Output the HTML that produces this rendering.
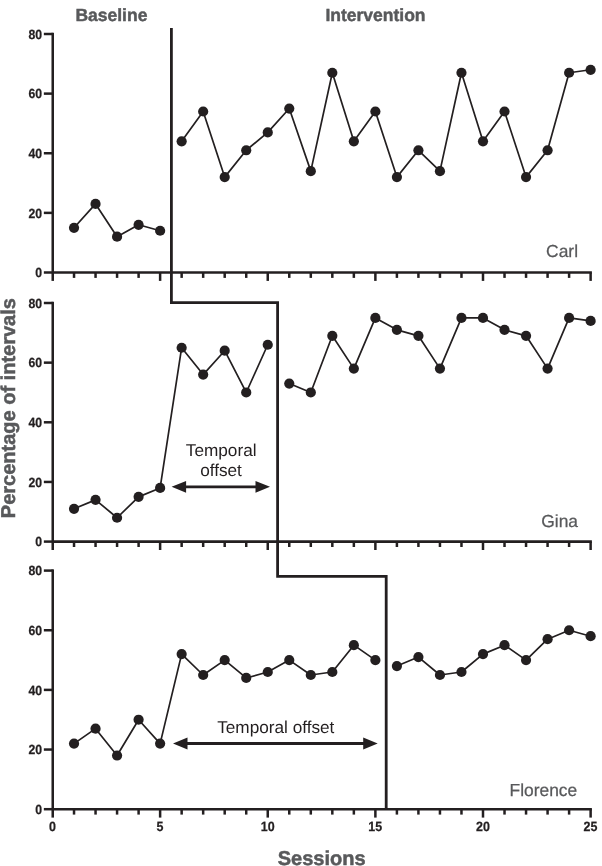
<!DOCTYPE html>
<html><head><meta charset="utf-8"><title>Multiple baseline</title>
<style>
html,body{margin:0;padding:0;background:#fff;}
body{width:602px;height:866px;overflow:hidden;}
svg{display:block;will-change:transform;text-rendering:geometricPrecision;font-family:"Liberation Sans",sans-serif;}
</style></head><body>
<svg width="602" height="866" viewBox="0 0 602 866">
<rect width="602" height="866" fill="#fff"/>
<text x="75.4" y="20.9" font-size="17.5" font-weight="bold" fill="#58595b" stroke="#58595b" stroke-width="0.45">Baseline</text>
<text x="325.4" y="20.9" font-size="17.5" font-weight="bold" fill="#58595b" stroke="#58595b" stroke-width="0.45">Intervention</text>
<text transform="translate(15.1,518.2) rotate(-90)" font-size="20" font-weight="bold" fill="#58595b" stroke="#58595b" stroke-width="0.5">Percentage of intervals</text>
<text x="321.7" y="865" text-anchor="middle" font-size="20" font-weight="bold" fill="#58595b" stroke="#58595b" stroke-width="0.5">Sessions</text>
<g stroke="#231f20" stroke-width="2.55" fill="none">
<path d="M52.75 32.75V280.90"/>
<path d="M52.75 272.50H591.88"/>
</g>
<g stroke="#231f20" stroke-width="2.5" fill="none">
<path d="M43.85 272.50H52.75"/>
<path d="M43.85 212.88H52.75"/>
<path d="M43.85 153.25H52.75"/>
<path d="M43.85 93.62H52.75"/>
<path d="M43.85 34.00H52.75"/>
<path d="M74.03 272.50V277.90"/>
<path d="M95.55 272.50V277.90"/>
<path d="M117.07 272.50V277.90"/>
<path d="M138.60 272.50V277.90"/>
<path d="M160.12 272.50V280.90"/>
<path d="M181.65 272.50V277.90"/>
<path d="M203.17 272.50V277.90"/>
<path d="M224.70 272.50V277.90"/>
<path d="M246.22 272.50V277.90"/>
<path d="M267.75 272.50V280.90"/>
<path d="M289.27 272.50V277.90"/>
<path d="M310.80 272.50V277.90"/>
<path d="M332.32 272.50V277.90"/>
<path d="M353.85 272.50V277.90"/>
<path d="M375.38 272.50V280.90"/>
<path d="M396.90 272.50V277.90"/>
<path d="M418.42 272.50V277.90"/>
<path d="M439.95 272.50V277.90"/>
<path d="M461.47 272.50V277.90"/>
<path d="M483.00 272.50V280.90"/>
<path d="M504.52 272.50V277.90"/>
<path d="M526.05 272.50V277.90"/>
<path d="M547.58 272.50V277.90"/>
<path d="M569.10 272.50V277.90"/>
<path d="M590.62 272.50V280.90"/>
</g>
<g font-size="13.3" font-weight="bold" fill="#231f20" stroke="#231f20" stroke-width="0.25" text-anchor="end">
<text transform="translate(42.0,277.15) scale(0.92,1)">0</text>
<text transform="translate(42.0,217.53) scale(0.92,1)">20</text>
<text transform="translate(42.0,157.90) scale(0.92,1)">40</text>
<text transform="translate(42.0,98.28) scale(0.92,1)">60</text>
<text transform="translate(42.0,38.65) scale(0.92,1)">80</text>
</g>
<polyline points="74.03,227.78 95.55,203.93 117.07,236.72 138.60,224.80 160.12,230.76" fill="none" stroke="#231f20" stroke-width="1.7" stroke-linejoin="round"/>
<polyline points="181.65,141.32 203.17,111.51 224.70,177.10 246.22,150.27 267.75,132.38 289.27,108.53 310.80,171.14 332.32,72.76 353.85,141.32 375.38,111.51 396.90,177.10 418.42,150.27 439.95,171.14 461.47,72.76 483.00,141.32 504.52,111.51 526.05,177.10 547.58,150.27 569.10,72.76 590.62,69.78" fill="none" stroke="#231f20" stroke-width="1.7" stroke-linejoin="round"/>
<g fill="#231f20">
<circle cx="74.03" cy="227.78" r="5.1"/>
<circle cx="95.55" cy="203.93" r="5.1"/>
<circle cx="117.07" cy="236.72" r="5.1"/>
<circle cx="138.60" cy="224.80" r="5.1"/>
<circle cx="160.12" cy="230.76" r="5.1"/>
<circle cx="181.65" cy="141.32" r="5.1"/>
<circle cx="203.17" cy="111.51" r="5.1"/>
<circle cx="224.70" cy="177.10" r="5.1"/>
<circle cx="246.22" cy="150.27" r="5.1"/>
<circle cx="267.75" cy="132.38" r="5.1"/>
<circle cx="289.27" cy="108.53" r="5.1"/>
<circle cx="310.80" cy="171.14" r="5.1"/>
<circle cx="332.32" cy="72.76" r="5.1"/>
<circle cx="353.85" cy="141.32" r="5.1"/>
<circle cx="375.38" cy="111.51" r="5.1"/>
<circle cx="396.90" cy="177.10" r="5.1"/>
<circle cx="418.42" cy="150.27" r="5.1"/>
<circle cx="439.95" cy="171.14" r="5.1"/>
<circle cx="461.47" cy="72.76" r="5.1"/>
<circle cx="483.00" cy="141.32" r="5.1"/>
<circle cx="504.52" cy="111.51" r="5.1"/>
<circle cx="526.05" cy="177.10" r="5.1"/>
<circle cx="547.58" cy="150.27" r="5.1"/>
<circle cx="569.10" cy="72.76" r="5.1"/>
<circle cx="590.62" cy="69.78" r="5.1"/>
</g>
<text x="578.0" y="257.4" text-anchor="end" font-size="17.4" fill="#58595b" stroke="#58595b" stroke-width="0.25">Carl</text>
<g stroke="#231f20" stroke-width="2.55" fill="none">
<path d="M52.75 301.75V550.00"/>
<path d="M52.75 541.60H591.88"/>
</g>
<g stroke="#231f20" stroke-width="2.5" fill="none">
<path d="M43.85 541.60H52.75"/>
<path d="M43.85 481.95H52.75"/>
<path d="M43.85 422.30H52.75"/>
<path d="M43.85 362.65H52.75"/>
<path d="M43.85 303.00H52.75"/>
<path d="M74.03 541.60V547.00"/>
<path d="M95.55 541.60V547.00"/>
<path d="M117.07 541.60V547.00"/>
<path d="M138.60 541.60V547.00"/>
<path d="M160.12 541.60V550.00"/>
<path d="M181.65 541.60V547.00"/>
<path d="M203.17 541.60V547.00"/>
<path d="M224.70 541.60V547.00"/>
<path d="M246.22 541.60V547.00"/>
<path d="M267.75 541.60V550.00"/>
<path d="M289.27 541.60V547.00"/>
<path d="M310.80 541.60V547.00"/>
<path d="M332.32 541.60V547.00"/>
<path d="M353.85 541.60V547.00"/>
<path d="M375.38 541.60V550.00"/>
<path d="M396.90 541.60V547.00"/>
<path d="M418.42 541.60V547.00"/>
<path d="M439.95 541.60V547.00"/>
<path d="M461.47 541.60V547.00"/>
<path d="M483.00 541.60V550.00"/>
<path d="M504.52 541.60V547.00"/>
<path d="M526.05 541.60V547.00"/>
<path d="M547.58 541.60V547.00"/>
<path d="M569.10 541.60V547.00"/>
<path d="M590.62 541.60V550.00"/>
</g>
<g font-size="13.3" font-weight="bold" fill="#231f20" stroke="#231f20" stroke-width="0.25" text-anchor="end">
<text transform="translate(42.0,546.25) scale(0.92,1)">0</text>
<text transform="translate(42.0,486.60) scale(0.92,1)">20</text>
<text transform="translate(42.0,426.95) scale(0.92,1)">40</text>
<text transform="translate(42.0,367.30) scale(0.92,1)">60</text>
<text transform="translate(42.0,307.65) scale(0.92,1)">80</text>
</g>
<polyline points="74.03,508.79 95.55,499.85 117.07,517.74 138.60,496.86 160.12,487.92 181.65,347.74 203.17,374.58 224.70,350.72 246.22,392.48 267.75,344.75" fill="none" stroke="#231f20" stroke-width="1.7" stroke-linejoin="round"/>
<polyline points="289.27,383.53 310.80,392.48 332.32,335.81 353.85,368.62 375.38,317.91 396.90,329.84 418.42,335.81 439.95,368.62 461.47,317.91 483.00,317.91 504.52,329.84 526.05,335.81 547.58,368.62 569.10,317.91 590.62,320.89" fill="none" stroke="#231f20" stroke-width="1.7" stroke-linejoin="round"/>
<g fill="#231f20">
<circle cx="74.03" cy="508.79" r="5.1"/>
<circle cx="95.55" cy="499.85" r="5.1"/>
<circle cx="117.07" cy="517.74" r="5.1"/>
<circle cx="138.60" cy="496.86" r="5.1"/>
<circle cx="160.12" cy="487.92" r="5.1"/>
<circle cx="181.65" cy="347.74" r="5.1"/>
<circle cx="203.17" cy="374.58" r="5.1"/>
<circle cx="224.70" cy="350.72" r="5.1"/>
<circle cx="246.22" cy="392.48" r="5.1"/>
<circle cx="267.75" cy="344.75" r="5.1"/>
<circle cx="289.27" cy="383.53" r="5.1"/>
<circle cx="310.80" cy="392.48" r="5.1"/>
<circle cx="332.32" cy="335.81" r="5.1"/>
<circle cx="353.85" cy="368.62" r="5.1"/>
<circle cx="375.38" cy="317.91" r="5.1"/>
<circle cx="396.90" cy="329.84" r="5.1"/>
<circle cx="418.42" cy="335.81" r="5.1"/>
<circle cx="439.95" cy="368.62" r="5.1"/>
<circle cx="461.47" cy="317.91" r="5.1"/>
<circle cx="483.00" cy="317.91" r="5.1"/>
<circle cx="504.52" cy="329.84" r="5.1"/>
<circle cx="526.05" cy="335.81" r="5.1"/>
<circle cx="547.58" cy="368.62" r="5.1"/>
<circle cx="569.10" cy="317.91" r="5.1"/>
<circle cx="590.62" cy="320.89" r="5.1"/>
</g>
<text x="578.0" y="526.9" text-anchor="end" font-size="17.4" fill="#58595b" stroke="#58595b" stroke-width="0.25">Gina</text>
<g stroke="#231f20" stroke-width="2.55" fill="none">
<path d="M52.75 569.35V817.60"/>
<path d="M52.75 809.20H591.88"/>
</g>
<g stroke="#231f20" stroke-width="2.5" fill="none">
<path d="M43.85 809.20H52.75"/>
<path d="M43.85 749.55H52.75"/>
<path d="M43.85 689.90H52.75"/>
<path d="M43.85 630.25H52.75"/>
<path d="M43.85 570.60H52.75"/>
<path d="M74.03 809.20V814.60"/>
<path d="M95.55 809.20V814.60"/>
<path d="M117.07 809.20V814.60"/>
<path d="M138.60 809.20V814.60"/>
<path d="M160.12 809.20V817.60"/>
<path d="M181.65 809.20V814.60"/>
<path d="M203.17 809.20V814.60"/>
<path d="M224.70 809.20V814.60"/>
<path d="M246.22 809.20V814.60"/>
<path d="M267.75 809.20V817.60"/>
<path d="M289.27 809.20V814.60"/>
<path d="M310.80 809.20V814.60"/>
<path d="M332.32 809.20V814.60"/>
<path d="M353.85 809.20V814.60"/>
<path d="M375.38 809.20V817.60"/>
<path d="M396.90 809.20V814.60"/>
<path d="M418.42 809.20V814.60"/>
<path d="M439.95 809.20V814.60"/>
<path d="M461.47 809.20V814.60"/>
<path d="M483.00 809.20V817.60"/>
<path d="M504.52 809.20V814.60"/>
<path d="M526.05 809.20V814.60"/>
<path d="M547.58 809.20V814.60"/>
<path d="M569.10 809.20V814.60"/>
<path d="M590.62 809.20V817.60"/>
</g>
<g font-size="13.3" font-weight="bold" fill="#231f20" stroke="#231f20" stroke-width="0.25" text-anchor="end">
<text transform="translate(42.0,813.85) scale(0.92,1)">0</text>
<text transform="translate(42.0,754.20) scale(0.92,1)">20</text>
<text transform="translate(42.0,694.55) scale(0.92,1)">40</text>
<text transform="translate(42.0,634.90) scale(0.92,1)">60</text>
<text transform="translate(42.0,575.25) scale(0.92,1)">80</text>
</g>
<polyline points="74.03,743.59 95.55,728.67 117.07,755.52 138.60,719.73 160.12,743.59 181.65,654.11 203.17,674.99 224.70,660.08 246.22,677.97 267.75,672.01 289.27,660.08 310.80,674.99 332.32,672.01 353.85,645.16 375.38,660.08" fill="none" stroke="#231f20" stroke-width="1.7" stroke-linejoin="round"/>
<polyline points="396.90,666.04 418.42,657.09 439.95,674.99 461.47,672.01 483.00,654.11 504.52,645.16 526.05,660.08 547.58,639.20 569.10,630.25 590.62,636.22" fill="none" stroke="#231f20" stroke-width="1.7" stroke-linejoin="round"/>
<g fill="#231f20">
<circle cx="74.03" cy="743.59" r="5.1"/>
<circle cx="95.55" cy="728.67" r="5.1"/>
<circle cx="117.07" cy="755.52" r="5.1"/>
<circle cx="138.60" cy="719.73" r="5.1"/>
<circle cx="160.12" cy="743.59" r="5.1"/>
<circle cx="181.65" cy="654.11" r="5.1"/>
<circle cx="203.17" cy="674.99" r="5.1"/>
<circle cx="224.70" cy="660.08" r="5.1"/>
<circle cx="246.22" cy="677.97" r="5.1"/>
<circle cx="267.75" cy="672.01" r="5.1"/>
<circle cx="289.27" cy="660.08" r="5.1"/>
<circle cx="310.80" cy="674.99" r="5.1"/>
<circle cx="332.32" cy="672.01" r="5.1"/>
<circle cx="353.85" cy="645.16" r="5.1"/>
<circle cx="375.38" cy="660.08" r="5.1"/>
<circle cx="396.90" cy="666.04" r="5.1"/>
<circle cx="418.42" cy="657.09" r="5.1"/>
<circle cx="439.95" cy="674.99" r="5.1"/>
<circle cx="461.47" cy="672.01" r="5.1"/>
<circle cx="483.00" cy="654.11" r="5.1"/>
<circle cx="504.52" cy="645.16" r="5.1"/>
<circle cx="526.05" cy="660.08" r="5.1"/>
<circle cx="547.58" cy="639.20" r="5.1"/>
<circle cx="569.10" cy="630.25" r="5.1"/>
<circle cx="590.62" cy="636.22" r="5.1"/>
</g>
<text x="577.2" y="795.5" text-anchor="end" font-size="17.4" fill="#58595b" stroke="#58595b" stroke-width="0.25">Florence</text>
<g font-size="13.4" font-weight="bold" fill="#231f20" stroke="#231f20" stroke-width="0.25" text-anchor="middle">
<text transform="translate(52.40,831.3) scale(0.93,1)">0</text>
<text transform="translate(160.03,831.3) scale(0.93,1)">5</text>
<text transform="translate(267.65,831.3) scale(0.93,1)">10</text>
<text transform="translate(375.27,831.3) scale(0.93,1)">15</text>
<text transform="translate(482.90,831.3) scale(0.93,1)">20</text>
<text transform="translate(590.52,831.3) scale(0.93,1)">25</text>
</g>
<path d="M171.4 28.0V302.6H277.6V576.4H386.2V809.2" fill="none" stroke="#231f20" stroke-width="2.8" stroke-linejoin="miter"/>
<path d="M185.10 486.8H256.50" stroke="#231f20" stroke-width="2.8" fill="none"/>
<path d="M171.6 486.8L186.1 480.90000000000003V492.7Z M270.0 486.8L255.5 480.90000000000003V492.7Z" fill="#231f20"/>
<path d="M186.50 743.5H364.20" stroke="#231f20" stroke-width="2.8" fill="none"/>
<path d="M173.0 743.5L187.5 737.6V749.4Z M377.7 743.5L363.2 737.6V749.4Z" fill="#231f20"/>
<g font-size="17.2" fill="#231f20" text-anchor="middle">
<text x="221.2" y="455.9">Temporal</text>
<text x="221" y="476.4">offset</text>
<text x="275.8" y="732.9">Temporal offset</text>
</g>
</svg>
</body></html>
